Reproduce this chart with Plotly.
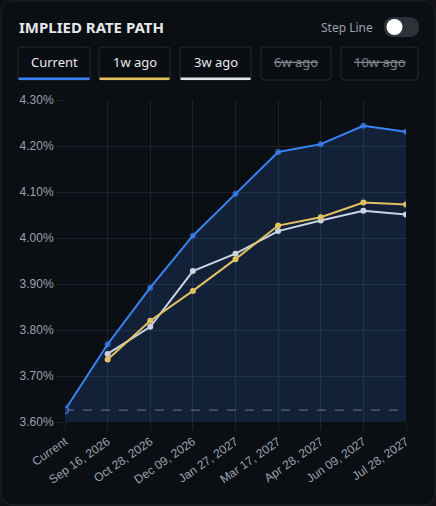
import plotly.graph_objects as go

# rate path data
dates = ["Current", "Sep 16, 2026", "Oct 28, 2026", "Dec 09, 2026", "Jan 27, 2027",
         "Mar 17, 2027", "Apr 28, 2027", "Jun 09, 2027", "Jul 28, 2027"]
current = [3.626, 3.769, 3.892, 4.005, 4.096, 4.187, 4.204, 4.244, 4.231]
wk1_ago = [None, 3.736, 3.820, 3.885, 3.954, 4.027, 4.045, 4.077, 4.073]
wk3_ago = [None, 3.748, 3.807, 3.928, 3.966, 4.015, 4.038, 4.059, 4.051]
y_ticks = [3.6, 3.7, 3.8, 3.9, 4.0, 4.1, 4.2, 4.3]
y_labels = ["%.2f%%" % v for v in y_ticks]
buttons = ["Current", "1w ago", "3w ago", "6w ago", "10w ago"]
button_on = [True, True, True, False, False]

W, H = 436, 506
L, R, T, B = 65, 30, 100, 84
BG = "#0b0e13"
GRID = "#1c2229"
BLUE = "#3b82f6"
GOLD = "#e2c160"
SILVER = "#c9d3e3"

def px(x):  # pixel -> paper x
    return (x - L) / (W - L - R)

def py(y):  # pixel -> paper y
    return 1 - (y - T) / (H - T - B)

def rrect(x0, y0, x1, y1, r):
    # rounded rectangle path in paper coords, corners via quadratic curves
    return ("M {a},{b} L {c},{b} Q {d},{b} {d},{e} L {d},{f} Q {d},{g} {c},{g} "
            "L {a},{g} Q {h},{g} {h},{f} L {h},{e} Q {h},{b} {a},{b} Z").format(
        a=px(x0 + r), b=py(y0), c=px(x1 - r), d=px(x1), e=py(y0 + r),
        f=py(y1 - r), g=py(y1), h=px(x0))

fig = go.Figure()

# shaded area under current path
fig.add_trace(go.Scatter(x=dates, y=current, mode="lines", line=dict(width=0),
                         fill="tozeroy", fillcolor="rgba(59,130,246,0.17)",
                         hoverinfo="skip", showlegend=False))
# dashed line at today's rate
fig.add_trace(go.Scatter(x=dates, y=[current[0]] * len(dates), mode="lines",
                         line=dict(color="#5d6673", width=1.2, dash="dash"),
                         hoverinfo="skip", showlegend=False))
fig.add_trace(go.Scatter(x=dates, y=wk3_ago, mode="lines+markers", name="3w ago",
                         line=dict(color=SILVER, width=2), marker=dict(size=6, color=SILVER)))
fig.add_trace(go.Scatter(x=dates, y=wk1_ago, mode="lines+markers", name="1w ago",
                         line=dict(color=GOLD, width=2), marker=dict(size=6, color=GOLD)))
fig.add_trace(go.Scatter(x=dates, y=current, mode="lines+markers", name="Current",
                         line=dict(color=BLUE, width=2),
                         marker=dict(size=[7] + [6] * (len(dates) - 1),
                                     color=["#16243d"] + [BLUE] * (len(dates) - 1),
                                     line=dict(color=BLUE, width=[2] + [0] * (len(dates) - 1)))))

shapes = []
# card
shapes.append(dict(type="path", xref="paper", yref="paper", layer="below",
                   path=rrect(1, 1, 435, 505, 13), fillcolor=BG,
                   line=dict(color="#1f242b", width=1)))
# toggle
shapes.append(dict(type="path", xref="paper", yref="paper",
                   path=rrect(384, 17, 419, 37, 10), fillcolor="#2e3238", line=dict(width=0)))
shapes.append(dict(type="circle", xref="paper", yref="paper",
                   x0=px(386.5), x1=px(402.5), y0=py(19), y1=py(35),
                   fillcolor="#ffffff", line=dict(width=0)))

btn_x = [(18, 90), (99, 170), (180, 251), (261, 331), (341, 418)]
btn_col = [BLUE, GOLD, "#e5e7eb", None, None]
annotations = []
for (x0, x1), label, on, col in zip(btn_x, buttons, button_on, btn_col):
    shapes.append(dict(type="path", xref="paper", yref="paper",
                       path=rrect(x0, 47, x1, 80, 3), fillcolor="#0a0d11",
                       line=dict(color="#272c33", width=1)))
    if col:
        shapes.append(dict(type="rect", xref="paper", yref="paper",
                           x0=px(x0 + 0.5), x1=px(x1 - 0.5), y0=py(80), y1=py(77.5),
                           fillcolor=col, line=dict(width=0)))
    annotations.append(dict(xref="paper", yref="paper", x=px((x0 + x1) / 2), y=py(62),
                            text=label, showarrow=False, xanchor="center", yanchor="middle",
                            font=dict(family="Noto Sans", size=13,
                                      color="#e8eaed" if on else "#80878f",
                                      lineposition="none" if on else "through")))

annotations.append(dict(xref="paper", yref="paper", x=px(17), y=py(27), text="<b>IMPLIED RATE PATH</b>",
                        showarrow=False, xanchor="left", yanchor="middle",
                        font=dict(family="Noto Sans", size=15, color="#e6e8eb")))
annotations.append(dict(xref="paper", yref="paper", x=px(375), y=py(27), text="Step Line",
                        showarrow=False, xanchor="right", yanchor="middle",
                        font=dict(family="Noto Sans", size=12, color="#9aa1aa")))

fig.update_layout(
    width=W, height=H,
    margin=dict(l=L, r=R, t=T, b=B),
    paper_bgcolor="#0f1115",
    plot_bgcolor="rgba(0,0,0,0)",
    showlegend=False,
    shapes=shapes,
    annotations=annotations,
    font=dict(family="Liberation Sans", color="#9aa3ae", size=12),
)
fig.update_xaxes(type="category", range=[0, len(dates) - 1], tickangle=-35,
                 showgrid=True, gridcolor=GRID, gridwidth=1, zeroline=False,
                 ticks="outside", ticklen=7, tickcolor=GRID, showline=False,
                 tickfont=dict(size=12, color="#9aa3ae"))
fig.update_yaxes(range=[3.6, 4.3], tickmode="array", tickvals=y_ticks, ticktext=y_labels,
                 showgrid=True, gridcolor=GRID, gridwidth=1, zeroline=False,
                 ticks="outside", ticklen=8, tickcolor=GRID, showline=False,
                 tickfont=dict(size=12, color="#9aa3ae"))

fig.write_html("out.html", config={"displayModeBar": False},
               post_script="document.body.style.margin='0';document.body.style.background='#0f1115';")
